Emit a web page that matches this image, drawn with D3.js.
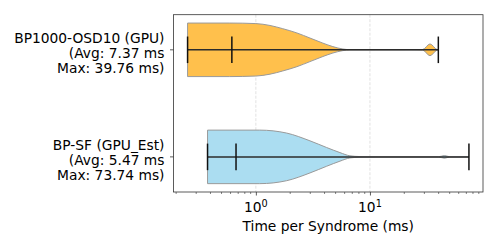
<!DOCTYPE html>
<html>
<head>
<meta charset="utf-8">
<script src="https://cdn.jsdelivr.net/npm/d3@7"></script>
<style>
  body { margin: 0; background: #fff; }
  svg text { font-family: "DejaVu Sans", sans-serif; }
</style>
</head>
<body>
<div id="viz"></div>
<script>
const categories = ["BP1000-OSD10 (GPU)", "BP-SF (GPU_Est)"];
const avgMs = [7.37, 5.47];
const maxMs = [39.76, 73.74];
const minMs = [0.252, 0.377];
const medianMs = [0.616, 0.67];
const colors = ["#ffc04c", "#abddf1"];

// violin outline: time (ms) and relative half-width
const profileTimes = [
    [0.252, 0.59, 1.0, 1.33, 1.72, 2.29, 2.98, 3.87, 4.73, 5.79, 6.67, 22.4, 29, 33.6, 38.7, 39.76],
    [0.377, 1.08, 1.86, 2.98, 4.17, 5.46, 6.67, 8.17, 12, 40, 45, 50, 73.74]
];
const profileDens = [
    [1.0, 1.0, 0.98, 0.91, 0.79, 0.63, 0.44, 0.25, 0.12, 0.03, 0.006, 0.004, 0.012, 0.22, 0.012, 0.004],
    [1.0, 1.0, 0.89, 0.6, 0.35, 0.16, 0.04, 0.012, 0.005, 0.005, 0.05, 0.005, 0.003]
];

const xTicks = [1, 10];

const margin = {left: 173.5, right: 15, top: 14.7, bottom: 57};
const width = 498, height = 249;
const fs = 13.8;

const svg = d3.select("#viz").append("svg")
    .attr("width", width)
    .attr("height", height);

const x = d3.scaleLog()
    .domain([Math.pow(10, -0.722), Math.pow(10, 1.991)])
    .range([margin.left, width - margin.right]);

const y = d3.scaleLinear()
    .domain([0.672, 2.328])
    .range([margin.top, height - margin.bottom]);

// grid
svg.append("g").selectAll("line")
    .data(xTicks)
    .enter().append("line")
        .attr("x1", d => x(d)).attr("x2", d => x(d))
        .attr("y1", margin.top).attr("y2", height - margin.bottom)
        .attr("stroke", "#dadada")
        .attr("stroke-width", 0.8)
        .attr("stroke-dasharray", "3,1.5");

const half = 0.25;

categories.forEach((c, i) => {
    const pos = i + 1;
    const pts = profileTimes[i].map((t, k) => [t, profileDens[i][k]]);
    const area = d3.area()
        .x(d => x(d[0]))
        .y0(d => y(pos - half * d[1]))
        .y1(d => y(pos + half * d[1]))
        .curve(d3.curveMonotoneX);
    svg.append("path")
        .attr("d", area(pts))
        .attr("fill", colors[i])
        .attr("stroke", "#9a9a9a")
        .attr("stroke-width", 1);

    const g = svg.append("g");
    g.append("line")
        .attr("x1", x(minMs[i])).attr("x2", x(maxMs[i]))
        .attr("y1", y(pos)).attr("y2", y(pos))
        .attr("stroke", "#2b2b2b").attr("stroke-width", 1.5);
    [minMs[i], medianMs[i], maxMs[i]].forEach(v => {
        g.append("line")
            .attr("x1", x(v)).attr("x2", x(v))
            .attr("y1", y(pos - 0.124)).attr("y2", y(pos + 0.124))
            .attr("stroke", "#111").attr("stroke-width", 1.5);
    });

    // y tick + label
    svg.append("line")
        .attr("x1", margin.left - 3.5).attr("x2", margin.left)
        .attr("y1", y(pos)).attr("y2", y(pos))
        .attr("stroke", "#333").attr("stroke-width", 0.8);
    const lines = [c, `(Avg: ${avgMs[i].toFixed(2)} ms`, `Max: ${maxMs[i].toFixed(2)} ms)`];
    const t = svg.append("text")
        .attr("text-anchor", "end")
        .attr("font-size", fs)
        .attr("fill", "#000");
    lines.forEach((l, k) => {
        t.append("tspan")
            .attr("x", margin.left - 9)
            .attr("y", y(pos) - 6.5 + k * 15)
            .text(l);
    });
});

// frame
svg.append("rect")
    .attr("x", margin.left).attr("y", margin.top)
    .attr("width", width - margin.right - margin.left)
    .attr("height", height - margin.bottom - margin.top)
    .attr("fill", "none")
    .attr("stroke", "#333")
    .attr("stroke-width", 0.8);

// x axis
const xAxis = d3.axisBottom(x)
    .tickValues(xTicks)
    .tickSize(3.5)
    .tickFormat("");
const gx = svg.append("g")
    .attr("transform", `translate(0, ${height - margin.bottom})`)
    .call(xAxis);
gx.select(".domain").remove();
gx.selectAll("line").attr("stroke", "#333").attr("stroke-width", 0.8);

const minorTicks = x.ticks().filter(v => xTicks.indexOf(v) < 0);
svg.append("g").selectAll("line")
    .data(minorTicks)
    .enter().append("line")
        .attr("x1", d => x(d)).attr("x2", d => x(d))
        .attr("y1", height - margin.bottom).attr("y2", height - margin.bottom + 2)
        .attr("stroke", "#333").attr("stroke-width", 0.6);

xTicks.forEach(v => {
    const t = svg.append("text")
        .attr("x", x(v))
        .attr("y", height - margin.bottom + 20)
        .attr("text-anchor", "middle")
        .attr("font-size", fs);
    t.append("tspan").text("10");
    t.append("tspan").attr("dy", -5.5).attr("font-size", 9.7).text(Math.round(Math.log10(v)));
});

svg.append("text")
    .attr("x", (margin.left + width - margin.right) / 2)
    .attr("y", height - margin.bottom + 38.5)
    .attr("text-anchor", "middle")
    .attr("font-size", fs)
    .text("Time per Syndrome (ms)");
</script>
</body>
</html>
